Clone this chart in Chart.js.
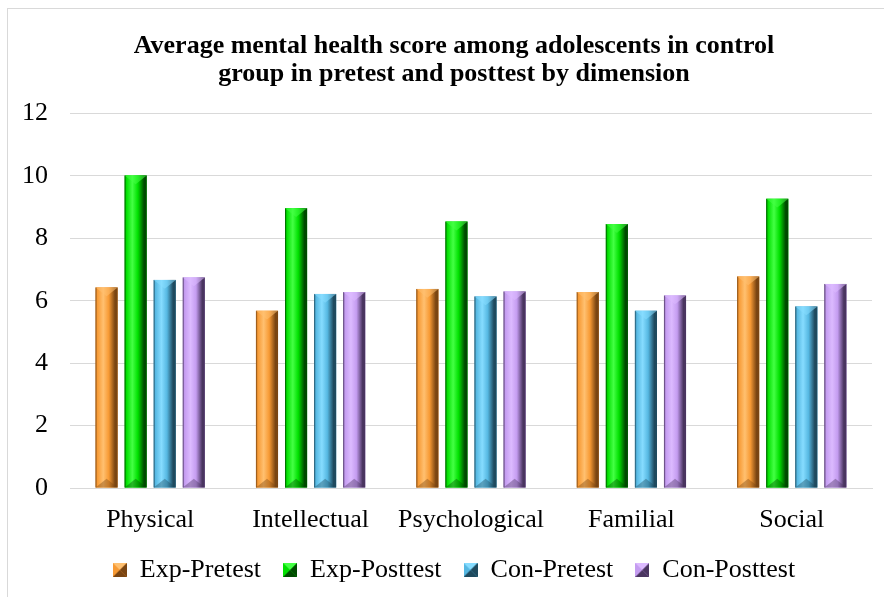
<!DOCTYPE html>
<html>
<head>
<meta charset="utf-8">
<script src="https://cdn.jsdelivr.net/npm/chart.js@4.4.1/dist/chart.umd.min.js"></script>
<style>
  body { margin: 0; background: #fff; }
  #frame { position: absolute; left: 7px; top: 8px; width: 900px; height: 620px; border: 1px solid #d9d9d9; }
  #wrap { position: absolute; left: 0; top: 0; width: 884px; height: 597px; }
</style>
</head>
<body>
<div id="frame"></div>
<div id="wrap"><canvas id="chart" width="884" height="597"></canvas></div>
<script>
const categories = ['Physical', 'Intellectual', 'Psychological', 'Familial', 'Social'];
const expPretest = [6.43, 5.68, 6.38, 6.28, 6.78];
const expPosttest = [10.02, 8.97, 8.54, 8.46, 9.27];
const conPretest = [6.67, 6.22, 6.14, 5.68, 5.82];
const conPosttest = [6.75, 6.28, 6.30, 6.17, 6.54];
const yTicks = [0, 2, 4, 6, 8, 10, 12];

// base, light, dark shades for the bevelled bars
const shades = [
  { base: '#f79a34', light: '#ffc070', dark: '#7a4512' },
  { base: '#00e000', light: '#44ff44', dark: '#004a00' },
  { base: '#56b8e2', light: '#86dcff', dark: '#1f4a5e' },
  { base: '#c49cf0', light: '#dcbaff', dark: '#4a3560' }
];

function paintBar(c, x0, x1, top, bottom, s) {
  const w = x1 - x0;
  const g = c.createLinearGradient(x0, 0, x1, 0);
  g.addColorStop(0, s.dark);
  g.addColorStop(0.08, s.base);
  g.addColorStop(0.35, s.light);
  g.addColorStop(0.6, s.base);
  g.addColorStop(0.88, s.dark);
  g.addColorStop(1, s.dark);
  c.fillStyle = g;
  c.fillRect(x0, top, w, bottom - top);
  const d = Math.min(w * 0.4, (bottom - top) / 2);
  c.globalAlpha = 0.55;
  c.fillStyle = s.light;
  c.beginPath();
  c.moveTo(x0, top); c.lineTo(x1, top); c.lineTo(x0 + w / 2, top + d); c.closePath();
  c.fill();
  c.globalAlpha = 0.4;
  c.fillStyle = s.dark;
  c.beginPath();
  c.moveTo(x0, bottom); c.lineTo(x1, bottom); c.lineTo(x0 + w / 2, bottom - d); c.closePath();
  c.fill();
  c.globalAlpha = 1;
}

function legendIcon(s) {
  const cv = document.createElement('canvas');
  cv.width = 14; cv.height = 14;
  const c = cv.getContext('2d');
  c.fillStyle = s.base; c.fillRect(0, 0, 14, 14);
  c.fillStyle = s.light;
  c.beginPath(); c.moveTo(0, 0); c.lineTo(14, 0); c.lineTo(7, 7); c.closePath(); c.fill();
  c.fillStyle = s.dark;
  c.beginPath(); c.moveTo(14, 0); c.lineTo(14, 14); c.lineTo(7, 7); c.closePath(); c.fill();
  c.beginPath(); c.moveTo(0, 14); c.lineTo(14, 14); c.lineTo(7, 7); c.closePath(); c.fill();
  return cv;
}

const bevelBars = {
  id: 'bevelBars',
  afterDatasetsDraw(chart) {
    const c = chart.ctx;
    c.save();
    chart.data.datasets.forEach((ds, i) => {
      const meta = chart.getDatasetMeta(i);
      meta.data.forEach(bar => {
        const p = bar.getProps(['x', 'y', 'base', 'width'], true);
        paintBar(c, p.x - p.width / 2, p.x + p.width / 2, p.y, p.base, shades[i]);
      });
    });
    c.restore();
  }
};

// title and legend sit a little right of the canvas centre in the original
const shiftBlocks = {
  id: 'shiftBlocks',
  afterLayout(chart) {
    [chart.titleBlock, chart.legend].forEach(b => {
      if (b) { b.left += 18; b.right += 18; }
    });
  }
};

const serif = "'Liberation Serif', 'Times New Roman', serif";

new Chart(document.getElementById('chart'), {
  type: 'bar',
  data: {
    labels: categories,
    datasets: [
      { label: 'Exp-Pretest', data: expPretest, backgroundColor: shades[0].base, pointStyle: legendIcon(shades[0]) },
      { label: 'Exp-Posttest', data: expPosttest, backgroundColor: shades[1].base, pointStyle: legendIcon(shades[1]) },
      { label: 'Con-Pretest', data: conPretest, backgroundColor: shades[2].base, pointStyle: legendIcon(shades[2]) },
      { label: 'Con-Posttest', data: conPosttest, backgroundColor: shades[3].base, pointStyle: legendIcon(shades[3]) }
    ]
  },
  options: {
    responsive: false,
    animation: false,
    datasets: { bar: { categoryPercentage: 0.725, barPercentage: 0.76 } },
    layout: { padding: { left: 0, right: 12, top: 0, bottom: 4 } },
    plugins: {
      title: {
        display: true,
        text: ['Average mental health score among adolescents in control', 'group in pretest and posttest by dimension'],
        color: '#000',
        font: { family: serif, size: 26, weight: 'bold', lineHeight: 1.05 },
        padding: { top: 33, bottom: 26 }
      },
      legend: {
        position: 'bottom',
        labels: {
          usePointStyle: true,
          color: '#000',
          font: { family: serif, size: 26 },
          padding: 22,
          boxWidth: 14
        }
      },
      tooltip: { enabled: false }
    },
    scales: {
      x: {
        grid: { display: false },
        border: { display: true, color: '#d9d9d9', width: 1 },
        ticks: { color: '#000', font: { family: serif, size: 26 }, padding: 9 },
        afterFit(axis) { axis.height = 47; }
      },
      y: {
        min: 0,
        max: 12,
        afterBuildTicks(axis) { axis.ticks = yTicks.map(v => ({ value: v })); },
        grid: { color: '#d9d9d9', lineWidth: 1, drawTicks: false },
        border: { display: false },
        ticks: { color: '#000', font: { family: serif, size: 26 }, padding: 22 }
      }
    }
  },
  plugins: [bevelBars, shiftBlocks]
});
</script>
</body>
</html>
